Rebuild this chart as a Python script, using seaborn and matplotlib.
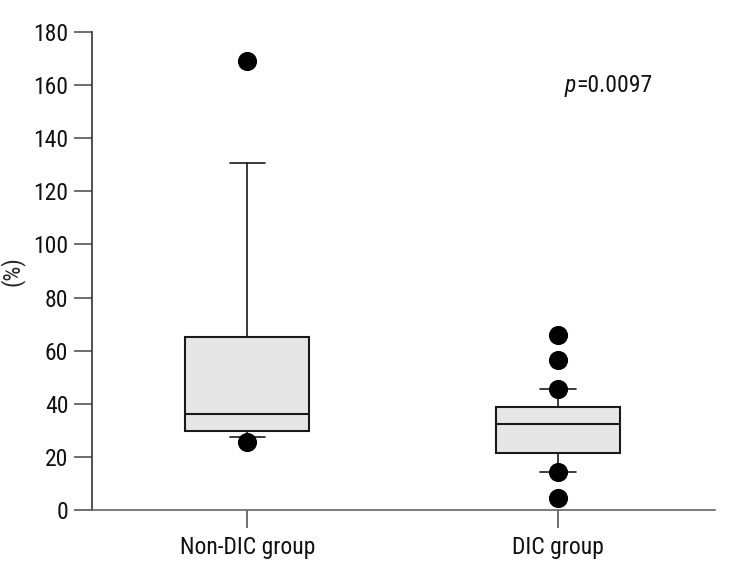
import numpy as np
import pandas as pd
import matplotlib
matplotlib.use("Agg")
import matplotlib.pyplot as plt
import seaborn as sns

# box statistics (%)
groups = ["Non-DIC group", "DIC group"]
q1 = [29.6, 21.6]
medians = [36.0, 32.3]
q3 = [65.2, 38.7]
whisk_lo = [27.4, 14.2]
whisk_hi = [130.5, 45.4]
outliers = [[169.0, 25.7], [65.9, 56.5, 45.5, 14.2, 4.4]]

sns.set_style("ticks")
plt.rcParams["font.family"] = ["Roboto Condensed", "Liberation Sans Narrow",
                               "Roboto", "DejaVu Sans"]

fig = plt.figure(figsize=(7.37, 5.78), dpi=100)
ax = fig.add_axes([0.1248, 0.1176, 0.8452, 0.827])

stats = []
for i, g in enumerate(groups):
    stats.append({
        "label": g, "q1": q1[i], "med": medians[i], "q3": q3[i],
        "whislo": whisk_lo[i], "whishi": whisk_hi[i], "fliers": [],
    })

ax.bxp(stats, positions=[0, 1], widths=0.4, patch_artist=True,
       showfliers=False,
       boxprops=dict(facecolor="#e6e6e6", edgecolor="#1a1a1a", linewidth=1.5),
       medianprops=dict(color="#1a1a1a", linewidth=1.5),
       whiskerprops=dict(color="#1a1a1a", linewidth=1.2),
       capprops=dict(color="#1a1a1a", linewidth=1.2),
       capwidths=0.113, zorder=2)

pts = pd.DataFrame({
    "x": [i for i, o in enumerate(outliers) for _ in o],
    "y": [v for o in outliers for v in o],
})
sns.scatterplot(data=pts, x="x", y="y", ax=ax, color="black", s=190,
                edgecolor="black", linewidth=0, zorder=3, legend=False)

ax.set_xlim(-0.5, 1.505)
ax.set_ylim(0, 180)
ax.set_yticks(np.arange(0, 181, 20))
ax.set_xticks([0, 1])
ax.set_xticklabels(groups)
ax.set_xlabel("")
ax.set_ylabel("(%)", fontsize=17)
ax.yaxis.set_label_coords(-0.108, 0.5)

ax.tick_params(axis="both", labelsize=17, length=13, width=1.2,
               color="#555555", labelcolor="#111111", pad=4)
ax.tick_params(axis="x", pad=6)
for s in ["top", "right"]:
    ax.spines[s].set_visible(False)
ax.spines["left"].set_color("#333333")
ax.spines["bottom"].set_color("#666666")
ax.spines["left"].set_linewidth(1.2)
ax.spines["bottom"].set_linewidth(1.2)

ax.text(1.058, 160, "p", fontsize=17, style="italic", ha="right",
        va="center", color="#111111")
ax.text(1.058, 160, "=0.0097", fontsize=17, ha="left",
        va="center", color="#111111")

fig.savefig("out.png", dpi=100)
